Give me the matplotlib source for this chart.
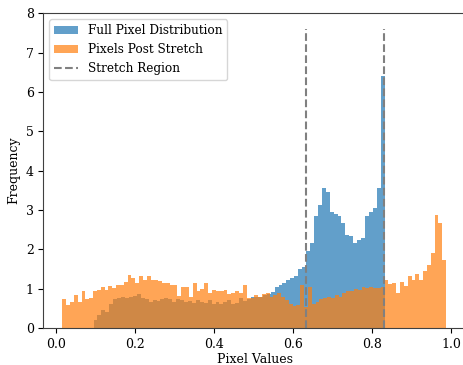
import numpy as np
import matplotlib.pyplot as plt

# histogram heights (density)
full_start, full_width = 0.0958, 0.00995
full_vals = [0.20, 0.33, 0.47, 0.41, 0.62, 0.73, 0.76, 0.78, 0.76, 0.80,
             0.81, 0.86, 0.76, 0.73, 0.67, 0.71, 0.69, 0.73, 0.76, 0.73,
             0.67, 0.73, 0.71, 0.67, 0.69, 0.64, 0.71, 0.67, 0.64, 0.71,
             0.61, 0.67, 0.62, 0.67, 0.71, 0.62, 0.64, 0.76, 0.69, 0.73,
             0.80, 0.78, 0.78, 0.85, 0.87, 0.92, 1.05, 1.10, 1.15, 1.21,
             1.27, 1.32, 1.49, 1.54, 1.95, 2.16, 2.84, 3.13, 3.57, 3.47,
             2.94, 2.90, 2.84, 2.66, 2.37, 2.34, 2.17, 2.24, 2.28, 2.85,
             2.95, 3.05, 3.55, 6.40]

post_start, post_width = 0.0170, 0.0097
post_vals = [0.73, 0.58, 0.67, 0.84, 0.67, 0.93, 0.73, 0.76, 0.93, 0.97,
             1.05, 0.97, 1.08, 1.02, 1.10, 1.09, 1.18, 1.35, 1.26, 1.15,
             1.31, 1.22, 1.33, 1.22, 1.22, 1.20, 1.15, 1.15, 1.09, 1.09,
             0.81, 1.05, 1.05, 0.80, 1.14, 0.93, 0.98, 1.14, 0.88, 0.97,
             0.94, 0.93, 0.97, 0.86, 0.88, 0.93, 0.88, 1.09, 0.76, 0.76,
             0.84, 0.80, 0.86, 0.88, 0.80, 0.84, 0.88, 0.80, 0.71, 0.62,
             0.56, 0.58, 1.09, 0.54, 1.05, 0.62, 0.67, 0.73, 0.76, 0.80,
             0.76, 0.84, 0.80, 0.88, 0.93, 0.94, 0.98, 0.97, 1.05, 1.02,
             1.05, 1.01, 1.02, 1.05, 1.22, 1.12, 1.14, 0.90, 1.18, 1.07,
             1.32, 1.22, 1.37, 1.22, 1.45, 1.60, 1.90, 2.87, 2.66, 1.72]

stretch_lo, stretch_hi = 0.633, 0.831
line_top = 7.6

plt.rcParams['font.family'] = 'DejaVu Serif'
plt.rcParams['font.size'] = 9

fig = plt.figure(figsize=(4.64, 3.65), dpi=100)
ax = fig.add_axes([0.0935, 0.1014, 0.913, 0.862])

full_left = full_start + full_width * np.arange(len(full_vals))
post_left = post_start + post_width * np.arange(len(post_vals))

h1 = ax.bar(full_left, full_vals, width=full_width, align='edge', color='C0',
            alpha=0.7, linewidth=0, label='Full Pixel Distribution')
h2 = ax.bar(post_left, post_vals, width=post_width, align='edge', color='C1',
            alpha=0.7, linewidth=0, label='Pixels Post Stretch')
h3 = ax.vlines([stretch_lo, stretch_hi], 0, line_top, colors='grey',
               linestyles='--', label='Stretch Region')

ax.set_xlim(-0.031, 1.04)
ax.set_ylim(0, 8)
ax.set_xticks([0.0, 0.2, 0.4, 0.6, 0.8, 1.0])
ax.set_xlabel('Pixel Values', labelpad=2)
ax.set_ylabel('Frequency')
for s in ax.spines.values():
    s.set_color('0.25')
ax.legend(handles=[h1, h2, h3], loc='upper left', fontsize=8.7)

fig.savefig('out.png', dpi=100)
